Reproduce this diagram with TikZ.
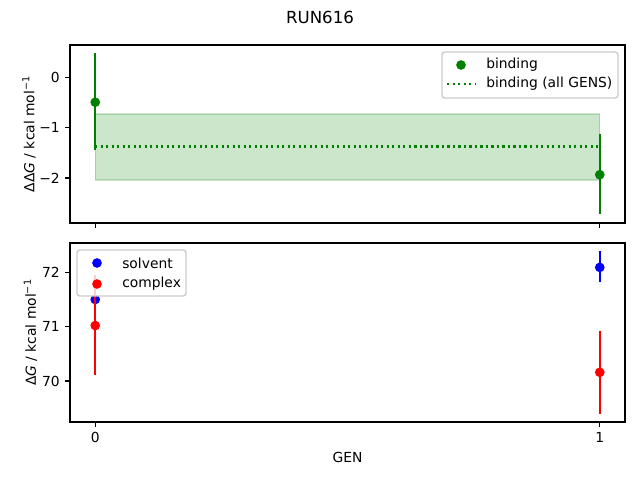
\documentclass[tikz,border=0pt]{standalone}
\usepackage{fontspec}
\setmainfont{DejaVu Sans}[ItalicFont={DejaVu Sans Oblique}]

\definecolor{mplgreen}{RGB}{0,128,0}
\definecolor{mplblue}{RGB}{0,0,255}
\definecolor{mplred}{RGB}{255,0,0}
\definecolor{legendedge}{RGB}{204,204,204}

\tikzset{
  spine/.style={line width=0.8pt},
  tickmark/.style={line width=0.8pt},
  errbar/.style={line width=1.5pt},
  dot/.style={circle, inner sep=0pt, minimum size=7pt},
  band/.style={fill=mplgreen, draw=mplgreen, fill opacity=0.2, draw opacity=0.2, line width=1pt},
  dotline/.style={mplgreen, line width=1.5pt, dash pattern=on 1.5pt off 2.475pt},
  legendbox/.style={draw=legendedge, fill=white, fill opacity=0.8, line width=1pt, rounded corners=2pt},
  ticklabel/.style={inner sep=0pt},
}

\begin{document}
\begin{tikzpicture}[x=0.01in,y=-0.01in]
\useasboundingbox (0,0) rectangle (640,480);

\node (title) at (320,17) {\fontsize{12}{14}\selectfont RUN616};

% top panel
\begin{scope}[shift={(95.23,77.3)},xscale=504.55,yscale=-50.35]
\filldraw[band] (0,-0.727) rectangle (1,-2.04);
\draw[dotline] (0,-1.375) -- (1,-1.375);
\draw[errbar, mplgreen] (0,0.475) -- (0,-1.44);
\draw[errbar, mplgreen] (1,-1.13) -- (1,-2.71);
\node[dot, fill=mplgreen] (bind0) at (0,-0.495) {};
\node[dot, fill=mplgreen] (bind1) at (1,-1.935) {};
\end{scope}

\draw[spine] (70,45) rectangle (625,223);
\foreach \v/\lab [count=\i] in {0/0, -1/−1, -2/−2}
  \draw[tickmark] (70,{77.3-50.35*\v}) -- ++(-4.86,0)
    node[ticklabel, anchor=east, xshift=-3.5pt] (ytop\i) {\lab};
\foreach \x [count=\i] in {95.23,599.77}
  \draw[tickmark] (\x,223) -- ++(0,4.86);
\node[rotate=90, anchor=south, inner sep=0pt] (ylabtop) at (36,134)
  {ΔΔ\textit{G} / kcal mol\textsuperscript{−1}};

\draw[legendbox] (442,52) rectangle (618,98);
\node[dot, fill=mplgreen] (legbind) at (461,65) {};
\node[anchor=west, inner sep=0pt] (legbindtxt) at (486,65) {binding};
\draw[dotline] (447,84) -- (475,84);
\node[anchor=west, inner sep=0pt] (legalltxt) at (486,84) {binding (all GENS)};

% bottom panel
\begin{scope}[shift={(95.23,4185.5)},xscale=504.55,yscale=-54.35]
\draw[errbar, mplblue] (0,71.64) -- (0,71.36);
\draw[errbar, mplblue] (1,72.39) -- (1,71.83);
\node[dot, fill=mplblue] (solv0) at (0,71.50) {};
\node[dot, fill=mplblue] (solv1) at (1,72.09) {};
\draw[errbar, mplred] (0,71.95) -- (0,70.11);
\draw[errbar, mplred] (1,70.92) -- (1,69.40);
\node[dot, fill=mplred] (comp0) at (0,71.02) {};
\node[dot, fill=mplred] (comp1) at (1,70.16) {};
\end{scope}

\draw[spine] (70,243) rectangle (625,422);
\foreach \v [count=\i] in {72,71,70}
  \draw[tickmark] (70,{381-54.35*(\v-70)}) -- ++(-4.86,0)
    node[ticklabel, anchor=east, xshift=-3.5pt] (ybot\i) {\v};
\foreach \x/\lab [count=\i] in {95.23/0,599.77/1}
  \draw[tickmark] (\x,422) -- ++(0,4.86)
    node[ticklabel, anchor=north, yshift=-3.5pt] (xbot\i) {\lab};
\node[rotate=90, anchor=south, inner sep=0pt] (ylabbot) at (37.5,332.5)
  {Δ\textit{G} / kcal mol\textsuperscript{−1}};
\node (xlab) at (347.5,457) {GEN};

\draw[legendbox] (77,250) rectangle (186,296);
\node[dot, fill=mplblue] (legsolv) at (97,263) {};
\node[anchor=west, inner sep=0pt] (legsolvtxt) at (122,263) {solvent};
\node[dot, fill=mplred] (legcomp) at (97,284) {};
\node[anchor=west, inner sep=0pt] (legcomptxt) at (122,284) {complex};
\end{tikzpicture}
\end{document}
